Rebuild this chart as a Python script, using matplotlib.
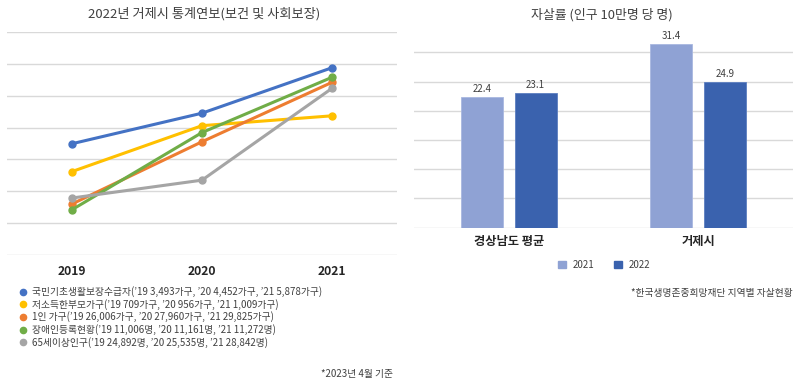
import matplotlib
matplotlib.use("Agg")
import matplotlib.pyplot as plt
from matplotlib.lines import Line2D
from matplotlib.patches import Patch
import numpy as np

plt.rcParams['font.family'] = ['Noto Sans CJK KR', 'DejaVu Sans']

# ---------------- data ----------------
years = ["2019", "2020", "2021"]
series_names = ["국민기초생활보장수급자", "저소득한부모가구", "1인 가구", "장애인등록현황", "65세이상인구"]
series_units = ["가구", "가구", "가구", "명", "명"]
welfare_recipients = [3493, 4452, 5878]
single_parent = [709, 956, 1009]
single_household = [26006, 27960, 29825]
disabled = [11006, 11161, 11272]
elderly = [24892, 25535, 28842]
series_values = [welfare_recipients, single_parent, single_household, disabled, elderly]
# each series sits on its own (hidden) value axis, like the source chart
series_limits = [(0, 7000), (260, 1460), (24405, 31405), (10915, 11363), (22840, 30870)]
series_colors = ["#4472C4", "#FFC000", "#ED7D31", "#70AD47", "#A5A5A5"]

regions = ["경상남도 평균", "거제시"]
suicide_2021 = [22.4, 31.4]
suicide_2022 = [23.1, 24.9]

TXT = "#404040"
GRID = "#D9D9D9"
W, H = 800, 382

fig = plt.figure(figsize=(8, 3.82), dpi=100)

def fx(px):
    return px / W

def fy(py):
    return 1 - py / H

# ================= left chart =================
ax = fig.add_axes([fx(7), fy(255), fx(390), fy(32) - fy(255)])
ax.set_xlim(-0.5, 2.5)
ax.set_ylim(0, 7)
ax.set_yticks(np.arange(0, 8))
ax.grid(axis='y', color=GRID, linewidth=1)
ax.set_axisbelow(True)
for s in ax.spines.values():
    s.set_visible(False)
ax.tick_params(length=0, labelleft=False)
ax.set_xticks(range(len(years)))
ax.set_xticklabels(years, fontsize=8.7, fontweight='bold', color="#262626")
ax.tick_params(axis='x', pad=7)

x = np.arange(len(years))
for vals, lim, col in zip(series_values, series_limits, series_colors):
    tw = ax.twinx()
    tw.set_ylim(*lim)
    tw.set_xlim(-0.5, 2.5)
    tw.axis('off')
    tw.plot(x, vals, color=col, linewidth=2.2, marker='o', markersize=5,
            solid_capstyle='round', clip_on=False)

fig.text(fx(204), fy(14), "2022년 거제시 통계연보(보건 및 사회보장)",
         ha='center', va='center', fontsize=9.5, color=TXT)

# legend
leg_y = [291.7, 304.3, 317.0, 329.5, 342.3]
for name, unit, vals, col, py in zip(series_names, series_units, series_values, series_colors, leg_y):
    parts = [f"’{y[2:]} {v:,}{unit}" for y, v in zip(years, vals)]
    label = f"{name}(" + ", ".join(parts) + ")"
    fig.add_artist(Line2D([fx(22.5)], [fy(py)], marker='o', markersize=4.5,
                          color=col, linestyle='none', transform=fig.transFigure))
    fig.text(fx(32), fy(py), label, ha='left', va='center', fontsize=7, color=TXT)

fig.text(fx(393), fy(374), "*2023년 4월 기준", ha='right', va='center', fontsize=7, color=TXT)

# ================= right chart =================
bx = fig.add_axes([fx(414), fy(227.7), fx(379), fy(23.1) - fy(227.7)])
bx.set_xlim(-0.5, 1.5)
bx.set_ylim(0, 35)
bx.set_yticks(np.arange(0, 31, 5))
bx.grid(axis='y', color=GRID, linewidth=1)
bx.set_axisbelow(True)
for s in bx.spines.values():
    s.set_visible(False)
bx.tick_params(length=0, labelleft=False)

xc = np.arange(len(regions))
bw = 0.22
off = 0.142
b1 = bx.bar(xc - off, suicide_2021, bw, color="#8FA2D4", edgecolor="#A9B8E0", linewidth=0.6, label="2021")
b2 = bx.bar(xc + off, suicide_2022, bw, color="#3A62AE", edgecolor="#5C7EC0", linewidth=0.6, label="2022")
for bars in (b1, b2):
    for r in bars:
        bx.annotate(f"{r.get_height():.1f}", (r.get_x() + r.get_width() / 2, r.get_height()),
                    xytext=(0, 2), textcoords='offset points', ha='center', va='bottom',
                    fontsize=7, color=TXT)
bx.set_xticks(xc)
bx.set_xticklabels(regions, fontsize=8.8, fontweight='bold', color="#262626")
bx.tick_params(axis='x', pad=5)

fig.text(fx(602), fy(15), "자살률 (인구 10만명 당 명)", ha='center', va='center', fontsize=9.3, color=TXT)

handles = [Patch(color="#8FA2D4", label="2021"), Patch(color="#3A62AE", label="2022")]
fig.legend(handles=handles, loc='center', bbox_to_anchor=(fx(604), fy(265)), ncol=2,
           frameon=False, fontsize=7, handlelength=0.8, handleheight=0.8,
           handletextpad=0.7, columnspacing=2.0, labelcolor=TXT)

fig.text(fx(793), fy(293), "*한국생명존중희망재단 지역별 자살현황", ha='right', va='center',
         fontsize=7, color=TXT)

fig.savefig("out.png", dpi=100)
